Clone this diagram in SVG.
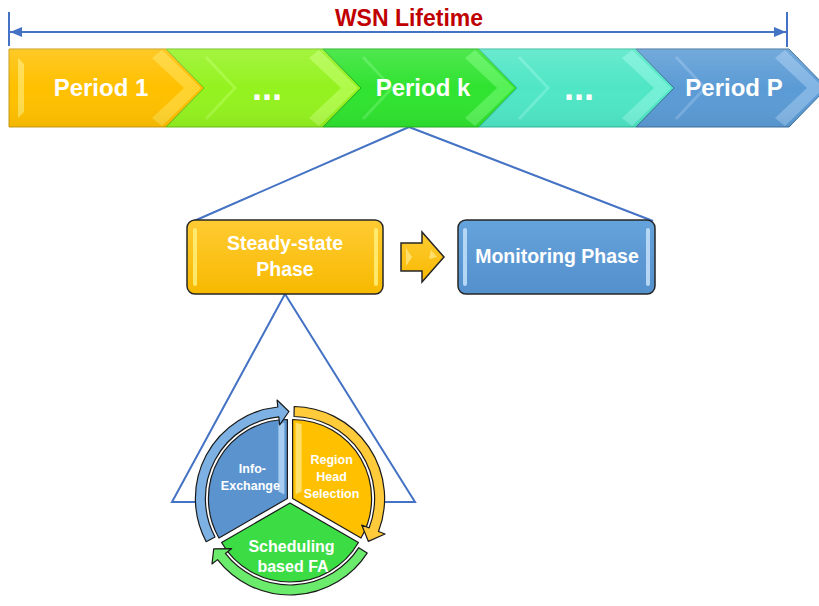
<svg xmlns="http://www.w3.org/2000/svg" width="819" height="606" viewBox="0 0 819 606">
<defs>
<style>
.lbl{font-family:"Liberation Sans",Arial,sans-serif;font-weight:bold;fill:#fff;text-anchor:middle}
.per{font-size:24px}
.dots{font-size:36px}
.ln{stroke:#4472C4;stroke-width:2;fill:none}
.box{stroke:#262626;stroke-width:1.5}
.pc{stroke:#1a1a1a;stroke-width:1.2;stroke-linejoin:round}
.seg{stroke-width:1}
.bev{opacity:0.6}
</style>
<marker id="ah" viewBox="0 0 12 10" refX="12" refY="5" markerWidth="12" markerHeight="10" markerUnits="userSpaceOnUse" orient="auto-start-reverse">
<path d="M0,0 L12,5 L0,10 Z" fill="#4472C4"/>
</marker>
<linearGradient id="sheen" x1="0" y1="0" x2="0" y2="1">
<stop offset="0" stop-color="#fff" stop-opacity="0.15"/>
<stop offset="0.5" stop-color="#fff" stop-opacity="0"/>
<stop offset="1" stop-color="#000" stop-opacity="0.05"/>
</linearGradient>
<linearGradient id="gY" x1="0" y1="0" x2="0" y2="1">
<stop offset="0" stop-color="#FFCB33"/>
<stop offset="1" stop-color="#F7B900"/>
</linearGradient>
<linearGradient id="gB" x1="0" y1="0" x2="0" y2="1">
<stop offset="0" stop-color="#65A3DC"/>
<stop offset="1" stop-color="#5490CC"/>
</linearGradient>
</defs>
<rect width="819" height="606" fill="#fff"/>

<g id="title">
<text x="409" y="26" font-family="'Liberation Sans',Arial,sans-serif" font-weight="bold" font-size="23" fill="#C00000" text-anchor="middle">WSN Lifetime</text>
</g>

<g id="connectors">
<line class="ln" x1="9" y1="12" x2="9" y2="46"/>
<line class="ln" x1="787" y1="12" x2="787" y2="47"/>
<line class="ln" x1="10" y1="32" x2="786" y2="32" marker-start="url(#ah)" marker-end="url(#ah)"/>
<line class="ln" x1="409" y1="127" x2="194" y2="221"/>
<line class="ln" x1="409" y1="127" x2="653" y2="221"/>
<polygon class="ln" points="285,294 172,502 415,502"/>
</g>

<g id="period-1">
<polygon class="seg" points="9,49 166,49 204,88 166,127 9,127" fill="#FFC000" stroke="#C79A1A"/>
<polygon class="bev" points="162,50 201,88 162,126 152,118 184,88 152,58" fill="#FFE04D"/>
<polygon class="bev" points="18,58 24,64 24,112 18,118" fill="#FFEE80"/>
<text class="lbl per" x="101" y="96">Period 1</text>
</g>
<g id="period-2">
<polygon class="seg" points="166,49 323,49 361,88 323,127 166,127 204,88" fill="#94F21F" stroke="#6FBF1A"/>
<polygon class="bev" points="319,50 358,88 319,126 309,118 341,88 309,58" fill="#C2FF66"/>
<polyline points="206,57 235,88 206,119" fill="none" stroke="#B8FF5C" stroke-width="3" opacity="0.5"/>
<text class="lbl dots" x="267" y="100">...</text>
</g>
<g id="period-k">
<polygon class="seg" points="323,49 479,49 517,88 479,127 323,127 361,88" fill="#30E330" stroke="#22B022"/>
<polygon class="bev" points="475,50 514,88 475,126 465,118 497,88 465,58" fill="#70FA70"/>
<polyline points="363,57 392,88 363,119" fill="none" stroke="#6CF56C" stroke-width="3" opacity="0.5"/>
<text class="lbl per" x="423" y="96">Period k</text>
</g>
<g id="period-4">
<polygon class="seg" points="479,49 636,49 674,88 636,127 479,127 517,88" fill="#4FE6C6" stroke="#34B89C"/>
<polygon class="bev" points="632,50 671,88 632,126 622,118 654,88 622,58" fill="#8EF7E2"/>
<polyline points="519,57 548,88 519,119" fill="none" stroke="#8AF5DE" stroke-width="3" opacity="0.5"/>
<text class="lbl dots" x="579" y="100">...</text>
</g>
<g id="period-p">
<polygon class="seg" points="636,49 789,49 827,88 789,127 636,127 674,88" fill="#5B9BD5" stroke="#41719C"/>
<polygon class="bev" points="785,50 824,88 785,126 775,118 807,88 775,58" fill="#9CC6EE"/>
<polyline points="676,57 705,88 676,119" fill="none" stroke="#93C0EC" stroke-width="3" opacity="0.5"/>
<text class="lbl per" x="734" y="96">Period P</text>
</g>
<path d="M9,49 H789 L827,88 L789,127 H9 Z" fill="url(#sheen)" pointer-events="none"/>

<g id="steady-state">
<rect class="box" x="187" y="220" width="196" height="74" rx="8" fill="url(#gY)"/>
<rect x="193" y="228" width="4" height="58" rx="2" fill="#FFF07A" opacity="0.85"/>
<rect x="374" y="228" width="4" height="58" rx="2" fill="#FFF07A" opacity="0.85"/>
<text class="lbl" x="285" y="250" font-size="19.5">Steady-state</text>
<text class="lbl" x="285" y="276" font-size="19.5">Phase</text>
</g>

<g id="next-arrow">
<path class="box" d="M401,243 H422 V232 L444,257 L422,282 V271 H401 Z" fill="url(#gY)"/>
<path d="M406,248 L412,257 L406,266 Z" fill="#FFE680" opacity="0.8"/>
<path d="M431,250 L437,257 L429,259 Z" fill="#FFE680" opacity="0.8"/>
</g>

<g id="monitoring">
<rect class="box" x="458" y="220" width="197" height="74" rx="8" fill="url(#gB)"/>
<rect x="463" y="228" width="4" height="58" rx="2" fill="#BFDDF7" opacity="0.9"/>
<rect x="646" y="228" width="4" height="58" rx="2" fill="#BFDDF7" opacity="0.9"/>
<text class="lbl" x="557" y="263" font-size="19.5">Monitoring Phase</text>
</g>

<circle cx="290" cy="500" r="95" fill="#fff"/>

<g id="info-exchange" transform="translate(287.4,498.5)">
<path class="pc" d="M0,0 L-68.42,39.5 A79,79 0 0 1 0,-79 Z" fill="#5B93CF"/>
<path d="M-9,-74 L-3,-76 L-3,-4 L-9,-7 Z" fill="#B5D8F7" opacity="0.85"/>
<path class="pc" d="M-81.23,43.19 A92,92 0 0 1 -9.62,-91.5 L-10.35,-98.46 L1.52,-86.99 L-7.74,-73.59 L-8.57,-81.55 A82,82 0 0 0 -72.4,38.5 Z" fill="#7DB1E3"/>
<text class="lbl" x="-35" y="-26" font-size="12.5">Info-</text>
<text class="lbl" x="-37" y="-9" font-size="12.5">Exchange</text>
</g>

<g id="region-head-selection" transform="translate(292.6,498.5)">
<path class="pc" d="M0,0 L0,-79 A79,79 0 0 1 68.42,39.5 Z" fill="#FFC000"/>
<path d="M3,-76 L9,-74 L9,-7 L3,-4 Z" fill="#FFE57A" opacity="0.85"/>
<path class="pc" d="M1.61,-91.99 A92,92 0 0 1 85.89,32.97 L92.42,35.48 L75.72,42.84 L69.08,26.52 L76.55,29.39 A82,82 0 0 0 1.43,-81.99 Z" fill="#FFCB3A"/>
<text class="lbl" x="39" y="-35" font-size="12.5">Region</text>
<text class="lbl" x="39" y="-18" font-size="12.5">Head</text>
<text class="lbl" x="39" y="-1" font-size="12.5">Selection</text>
</g>

<g id="scheduling" transform="translate(290,503)">
<path class="pc" d="M0,0 L68.42,39.5 A79,79 0 0 1 -68.42,39.5 Z" fill="#3CDC45"/>
<path class="pc" d="M77.16,50.11 A92,92 0 0 1 -72.5,56.64 L-78.01,60.95 L-76.29,45.84 L-58.31,45.56 L-64.62,50.48 A82,82 0 0 0 68.77,44.66 Z" fill="#6BEB6B"/>
<text class="lbl" x="1.5" y="49" font-size="16">Scheduling</text>
<text class="lbl" x="3" y="69" font-size="16">based FA</text>
</g>
</svg>
